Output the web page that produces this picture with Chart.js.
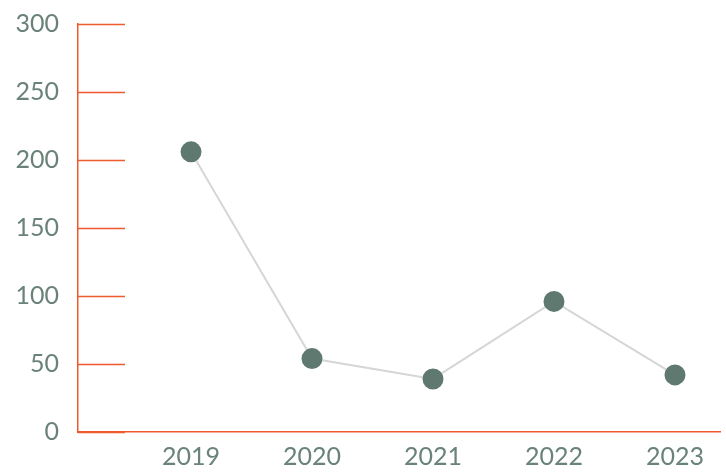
<!DOCTYPE html>
<html lang="en">
<head>
    <meta charset="UTF-8">
    <title>Yearly values</title>
    <script src="https://cdn.jsdelivr.net/npm/chart.js"></script>
    <style>
        html, body { margin: 0; padding: 0; background: #fff; }
        #wrap { width: 726px; height: 472px; position: relative; }
    </style>
</head>
<body>
    <div id="wrap"><canvas id="myChart"></canvas></div>
    <script>
        const years = [2019, 2020, 2021, 2022, 2023];
        const values = [206, 54, 39, 96, 42];
        const yTicks = [0, 50, 100, 150, 200, 250, 300];

        const axisColor = '#ef5a2e';
        const labelColor = '#6a8378';
        const dotColor = '#5f7970';
        const lineColor = '#d6d6d6';

        // short tick lines that stick into the plot from the y axis
        const shortTicks = {
            id: 'shortTicks',
            afterDatasetsDraw(chart) {
                const y = chart.scales.y;
                const left = chart.chartArea.left;
                const ctx = chart.ctx;
                ctx.save();
                ctx.strokeStyle = axisColor;
                ctx.lineWidth = 1.5;
                yTicks.forEach(v => {
                    const py = Math.round(y.getPixelForValue(v)) + 0.5;
                    ctx.beginPath();
                    ctx.moveTo(left, py);
                    ctx.lineTo(left + 47, py);
                    ctx.stroke();
                });
                ctx.restore();
            }
        };

        const font = { family: 'Lato, "Open Sans", sans-serif', size: 25, weight: '400' };

        new Chart(document.getElementById('myChart').getContext('2d'), {
            type: 'line',
            data: {
                datasets: [{
                    data: years.map((yr, i) => ({ x: yr, y: values[i] })),
                    borderColor: lineColor,
                    borderWidth: 2,
                    pointBackgroundColor: dotColor,
                    pointBorderColor: dotColor,
                    pointRadius: 9.5,
                    pointHoverRadius: 9.5,
                    tension: 0
                }]
            },
            options: {
                responsive: true,
                maintainAspectRatio: false,
                animation: false,
                layout: { autoPadding: false, padding: { top: 24, right: 6, left: 0, bottom: 0 } },
                plugins: { legend: { display: false }, tooltip: { enabled: false } },
                scales: {
                    x: {
                        type: 'linear',
                        min: 2018.066,
                        max: 2023.372,
                        afterBuildTicks: axis => { axis.ticks = years.map(v => ({ value: v })); },
                        afterFit: axis => {
                            axis.height = 40;
                            axis.paddingLeft = 0;
                            axis.paddingRight = 0;
                        },
                        grid: { display: false, drawTicks: false },
                        border: { display: true, color: axisColor, width: 1.5 },
                        ticks: {
                            color: labelColor,
                            font: font,
                            padding: 10,
                            maxRotation: 0,
                            callback: v => String(v)
                        }
                    },
                    y: {
                        min: 0,
                        max: 300,
                        afterBuildTicks: axis => { axis.ticks = yTicks.map(v => ({ value: v })); },
                        afterFit: axis => {
                            axis.width = 78;
                            axis.paddingTop = 0;
                            axis.paddingBottom = 0;
                        },
                        grid: { display: false, drawTicks: false },
                        border: { display: true, color: axisColor, width: 1.5 },
                        ticks: {
                            color: labelColor,
                            font: font,
                            padding: 19
                        }
                    }
                }
            },
            plugins: [shortTicks]
        });
    </script>
</body>
</html>
